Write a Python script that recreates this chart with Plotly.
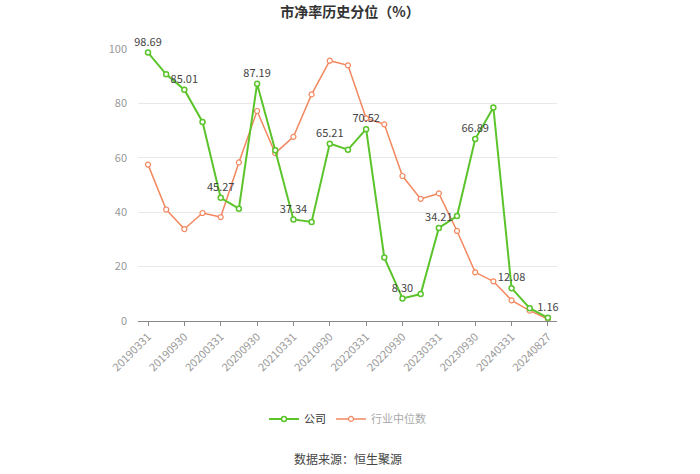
import plotly.graph_objects as go

dates = ["20190331","20190630","20190930","20191231","20200331","20200630","20200930","20201231",
         "20210331","20210630","20210930","20211231","20220331","20220630","20220930","20221231",
         "20230331","20230630","20230930","20231231","20240331","20240630","20240827"]
company = [98.69, 90.7, 85.01, 73.2, 45.27, 41.3, 87.19, 62.8, 37.34, 36.4, 65.21, 63.0,
           70.52, 23.3, 8.30, 9.9, 34.21, 38.6, 66.89, 78.5, 12.08, 4.7, 1.16]
industry = [57.5, 41.0, 33.8, 39.7, 38.2, 58.3, 77.2, 61.7, 67.7, 83.3, 95.7, 94.0,
            74.5, 72.3, 53.3, 44.9, 46.9, 33.1, 17.9, 14.6, 7.6, 3.8, 0.7]
label_idx = list(range(0, 23, 2))
tick_labels = dates[::2]

GREEN = "#5BC42B"
ORANGE = "#F3875F"

x = list(range(len(dates)))
texts = [f"{v:.2f}" if i in label_idx else "" for i, v in enumerate(company)]

fig = go.Figure()
fig.add_trace(go.Scatter(
    x=x, y=industry, name="<span style='color:#aaaaaa'>行业中位数</span>", mode="lines+markers",
    line=dict(color=ORANGE, width=1.5),
    marker=dict(symbol="circle", size=5, color="white", line=dict(color=ORANGE, width=1.2)),
    cliponaxis=False,
))
fig.add_trace(go.Scatter(
    x=x, y=company, name="公司", mode="lines+markers+text",
    line=dict(color=GREEN, width=2),
    marker=dict(symbol="circle", size=5, color="white", line=dict(color=GREEN, width=1.5)),
    text=texts, textposition="top center", textfont=dict(size=11, color="#444"),
    cliponaxis=False,
))

fig.update_layout(
    width=700, height=474,
    margin=dict(l=138, r=143, t=49, b=153),
    paper_bgcolor="white", plot_bgcolor="white",
    font=dict(family="Noto Sans CJK SC, sans-serif", color="#999"),
    title=dict(text="<b>市净率历史分位（%）</b>", x=0.5, xanchor="center", y=0.975, yanchor="middle",
               font=dict(size=14, color="#333")),
    showlegend=True,
    legend=dict(orientation="h", x=0.5, xanchor="center", y=-0.36, yanchor="middle",
                font=dict(size=11, color="#333"), traceorder="reversed", itemwidth=30),
    xaxis=dict(range=[-0.55, 22.5], tickmode="array", tickvals=x[::2], ticktext=tick_labels,
               tickangle=-45, ticks="outside", ticklen=4, tickcolor="#888",
               showline=True, linecolor="#888", linewidth=1, showgrid=False, zeroline=False,
               tickfont=dict(size=11, color="#999")),
    yaxis=dict(range=[0, 100], tickvals=[0, 20, 40, 60, 80, 100], showgrid=True, gridcolor="#e8e8e8",
               zeroline=False, showline=False, tickfont=dict(size=11, color="#999"), ticks="",
               ticklabelstandoff=10),
    annotations=[dict(text="数据来源：恒生聚源", x=0.5, xref="paper",
                      y=(474 - 153 - 458) / (474 - 49 - 153), yref="paper", yanchor="middle",
                      showarrow=False, font=dict(size=12, color="#444"))],
)
fig.write_html("out.html")
